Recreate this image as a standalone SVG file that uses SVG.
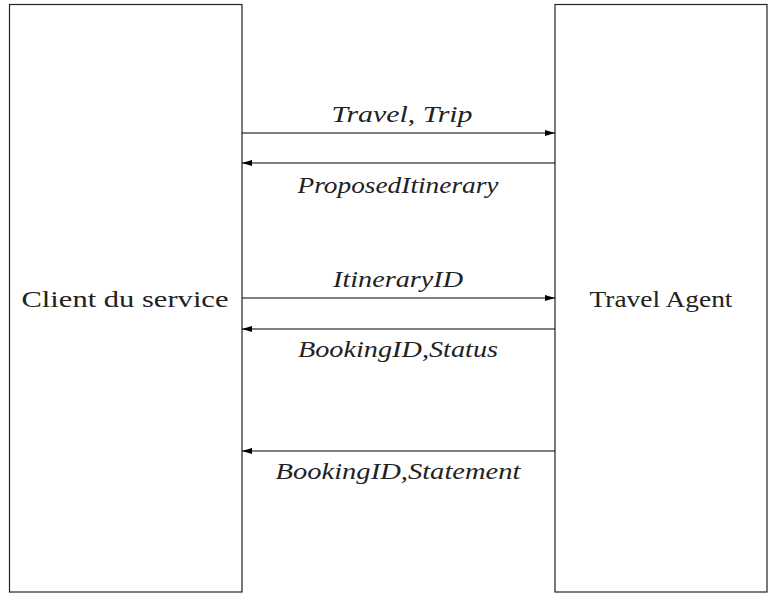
<svg xmlns="http://www.w3.org/2000/svg" width="773" height="596" viewBox="0 0 773 596">
<style>
.box{fill:#fff;stroke:#222;stroke-width:1.2}
.ln{stroke:#000;stroke-width:1.2;fill:none}
.lbl{font-family:"Liberation Serif","DejaVu Serif",serif;font-style:italic;font-size:23px;fill:#222;text-anchor:middle}
.nm{font-family:"Liberation Serif","DejaVu Serif",serif;font-size:23px;fill:#222;text-anchor:middle}
</style>
<defs>
<marker id="ah" viewBox="0 0 10 6" refX="10" refY="3" markerWidth="10" markerHeight="6" markerUnits="userSpaceOnUse" orient="auto">
<path d="M0,0 L10,3 L0,6 Z" fill="#000"/>
</marker>
</defs>
<rect width="773" height="596" fill="#fff"/>
<g id="client">
<rect class="box" x="9.5" y="4.5" width="232.5" height="587.5"/>
<text class="nm" x="125" y="307" textLength="207" lengthAdjust="spacingAndGlyphs">Client du service</text>
</g>
<g id="agent">
<rect class="box" x="555" y="4.5" width="212" height="587.5"/>
<text class="nm" x="661" y="307" textLength="143" lengthAdjust="spacingAndGlyphs">Travel Agent</text>
</g>
<g id="connectors">
<line class="ln" x1="242" y1="133" x2="555" y2="133" marker-end="url(#ah)"/>
<text class="lbl" x="402" y="122" textLength="141" lengthAdjust="spacingAndGlyphs">Travel, Trip</text>
<line class="ln" x1="555" y1="163" x2="242" y2="163" marker-end="url(#ah)"/>
<text class="lbl" x="398" y="193" textLength="201" lengthAdjust="spacingAndGlyphs">ProposedItinerary</text>
<line class="ln" x1="242" y1="298" x2="555" y2="298" marker-end="url(#ah)"/>
<text class="lbl" x="398" y="287" textLength="130" lengthAdjust="spacingAndGlyphs">ItineraryID</text>
<line class="ln" x1="555" y1="329" x2="242" y2="329" marker-end="url(#ah)"/>
<text class="lbl" x="398" y="357" textLength="200" lengthAdjust="spacingAndGlyphs">BookingID,Status</text>
<line class="ln" x1="555" y1="451" x2="242" y2="451" marker-end="url(#ah)"/>
<text class="lbl" x="398" y="479" textLength="245" lengthAdjust="spacingAndGlyphs">BookingID,Statement</text>
</g>
</svg>
